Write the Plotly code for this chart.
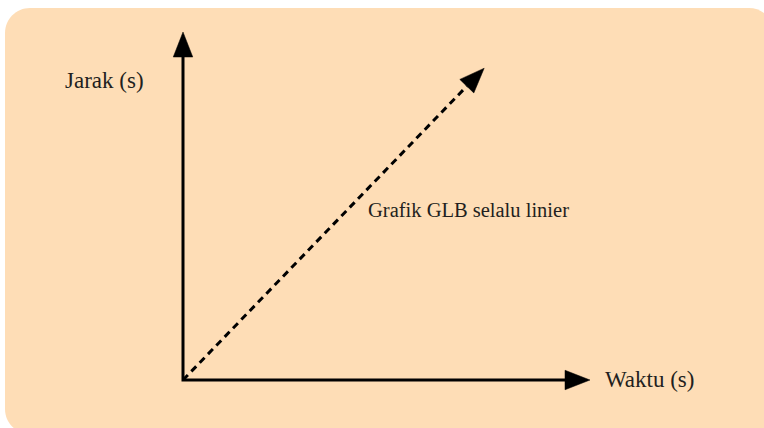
import numpy as np
import plotly.graph_objects as go

# ---------------- data (conceptual diagram units) ----------------
axis_waktu = [0.0, 10.0]          # horizontal axis: origin -> arrow tip
axis_jarak = [0.0, 10.0]          # vertical axis: origin -> arrow tip
glb_waktu = [0.0, 7.4]            # GLB straight line (time)
glb_jarak = [0.0, 8.96]           # GLB straight line (distance)
label_y = "Jarak (s)"
label_x = "Waktu (s)"
label_line = "Grafik GLB selalu linier"

# ---------------- layout constants ----------------
W, H = 764, 428
ORIGIN_PX = (183, 380)            # pixel position of origin inside figure
SX = 40.7                         # px per unit (x)
SY = 34.8                         # px per unit (y)
HEAD_LEN, HEAD_W = 25, 19.5       # arrow head size in px
INK = "#000000"
TEXT = "#231F20"
BG = "#FEDDB6"
FONT = "Liberation Serif"

x_range = [-ORIGIN_PX[0] / SX, (W - ORIGIN_PX[0]) / SX]
y_range = [-(H - ORIGIN_PX[1]) / SY, ORIGIN_PX[1] / SY]


def head(x0, y0, x1, y1):
    """Arrow head polygon (data coords) at (x1,y1), pointing from (x0,y0)."""
    dx, dy = (x1 - x0) * SX, (y1 - y0) * SY
    n = np.hypot(dx, dy)
    ux, uy = dx / n, dy / n
    px, py = -uy, ux
    bx, by = x1 - HEAD_LEN * ux / SX, y1 - HEAD_LEN * uy / SY
    c1 = (bx + HEAD_W / 2 * px / SX, by + HEAD_W / 2 * py / SY)
    c2 = (bx - HEAD_W / 2 * px / SX, by - HEAD_W / 2 * py / SY)
    return (bx, by), [x1, c1[0], c2[0], x1], [y1, c1[1], c2[1], y1]


fig = go.Figure()

# axes (single polyline so the corner is square)
(ybx, yby), yhx, yhy = head(0, axis_jarak[0], 0, axis_jarak[1])
(xbx, xby), xhx, xhy = head(axis_waktu[0], 0, axis_waktu[1], 0)
fig.add_trace(go.Scatter(
    x=[0, 0, xbx], y=[yby, 0, 0], mode="lines",
    line=dict(color=INK, width=3), hoverinfo="skip"))
for hx, hy in ((yhx, yhy), (xhx, xhy)):
    fig.add_trace(go.Scatter(x=hx, y=hy, mode="lines", fill="toself",
                             fillcolor=INK, line=dict(color=INK, width=0.5),
                             hoverinfo="skip"))

# dashed GLB line
(gbx, gby), ghx, ghy = head(glb_waktu[0], glb_jarak[0], glb_waktu[1], glb_jarak[1])
fig.add_trace(go.Scatter(
    x=[glb_waktu[0], gbx], y=[glb_jarak[0], gby], mode="lines",
    line=dict(color=INK, width=3, dash="7px,5px"), hoverinfo="skip"))
fig.add_trace(go.Scatter(x=ghx, y=ghy, mode="lines", fill="toself",
                         fillcolor=INK, line=dict(color=INK, width=0.5),
                         hoverinfo="skip"))

# rounded background panel (paper coords, given in px)
L, T, R, B, RAD = 5, 8, 774, 434, 25
k = 0.5523


def P(px, py):
    return f"{px / W:.5f},{1 - py / H:.5f}"


path = (
    f"M {P(L + RAD, T)} L {P(R - RAD, T)} "
    f"C {P(R - RAD + k * RAD, T)} {P(R, T + RAD - k * RAD)} {P(R, T + RAD)} "
    f"L {P(R, B - RAD)} "
    f"C {P(R, B - RAD + k * RAD)} {P(R - RAD + k * RAD, B)} {P(R - RAD, B)} "
    f"L {P(L + RAD, B)} "
    f"C {P(L + RAD - k * RAD, B)} {P(L, B - RAD + k * RAD)} {P(L, B - RAD)} "
    f"L {P(L, T + RAD)} "
    f"C {P(L, T + RAD - k * RAD)} {P(L + RAD - k * RAD, T)} {P(L + RAD, T)} Z"
)
fig.add_shape(type="path", path=path, xref="paper", yref="paper",
              fillcolor=BG, line=dict(width=0), layer="below")


def ax_(px):
    return px / W


def ay_(py):
    return 1 - py / H


# labels
fig.add_annotation(text=label_y, xref="paper", yref="paper",
                   x=ax_(63), y=ay_(81), xanchor="left", yanchor="middle",
                   showarrow=False, font=dict(family=FONT, size=23, color=TEXT))
fig.add_annotation(text=label_x, xref="paper", yref="paper",
                   x=ax_(603), y=ay_(379), xanchor="left", yanchor="middle",
                   showarrow=False, font=dict(family=FONT, size=23, color=TEXT))
fig.add_annotation(text=label_line, xref="paper", yref="paper",
                   x=ax_(366), y=ay_(210), xanchor="left", yanchor="middle",
                   showarrow=False, font=dict(family=FONT, size=20.5, color=TEXT))

fig.update_layout(
    width=W, height=H, margin=dict(l=0, r=0, t=0, b=0),
    paper_bgcolor="white", plot_bgcolor="rgba(0,0,0,0)",
    showlegend=False,
    xaxis=dict(range=x_range, visible=False, fixedrange=True),
    yaxis=dict(range=y_range, visible=False, fixedrange=True),
)

fig.write_html("out.html",
               config={"displayModeBar": False, "staticPlot": True},
               post_script="document.body.style.margin='0';"
                           "document.body.style.overflow='hidden';")
